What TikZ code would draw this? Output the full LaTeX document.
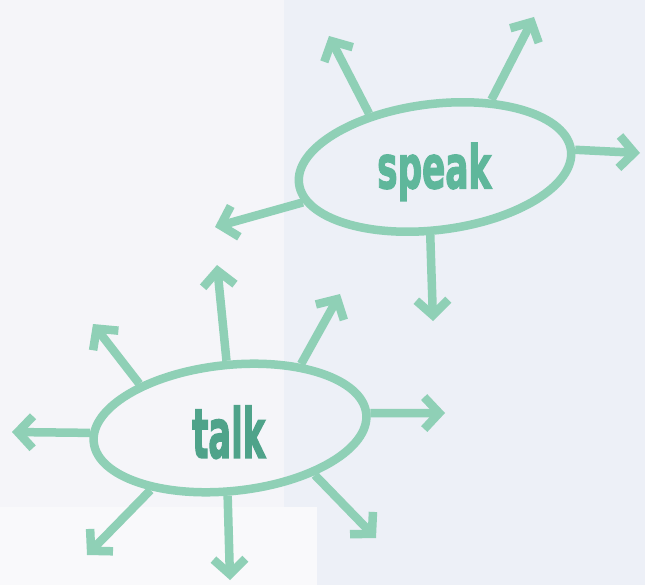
\documentclass[tikz,border=0pt]{standalone}
\usepackage{fontspec}
\usepackage{graphicx}
\usetikzlibrary{arrows.meta,shapes.geometric}
\setmainfont{DejaVu Sans}
\newfontfamily\wordfont{DejaVu Sans Condensed Bold}[FakeBold=2.5]
\definecolor{mint}{HTML}{8FD0B6}
\definecolor{speakgreen}{HTML}{5FB79B}
\definecolor{talkgreen}{HTML}{4FA38A}
\definecolor{paper}{HTML}{EDF0F7}
\definecolor{paperlight}{HTML}{F5F5F9}
\tikzset{
  bubble/.style={ellipse,draw=mint,line width=8.5pt,minimum width=274pt,minimum height=126pt,inner sep=0pt},
  spoke/.style={mint,line width=8.5pt,-{Straight Barb[length=15pt,width=32pt]}},
  word/.style={inner sep=0pt,font=\wordfont}
}
\begin{document}
\begin{tikzpicture}[x=1pt,y=-1pt]
  \useasboundingbox (0,0) rectangle (645,585);
  % paper
  \fill[paper] (0,0) rectangle (645,585);
  \fill[paperlight] (0,0) rectangle (284,507);
  \fill[paperlight!60!white] (0,507) rectangle (317,585);
  % speak
  \node[bubble,rotate=7] (speak) at (435,167) {};
  \node[word,text=speakgreen,anchor=south west] (speakw) at (377,201) {\resizebox*{114pt}{58pt}{speak}};
  \coordinate (s1) at (329,36);
  \coordinate (s2) at (534,17);
  \coordinate (s3) at (640,153);
  \coordinate (s4) at (215,227);
  \coordinate (s5) at (433,321);
  \draw[spoke] (speak.134) -- (s1);
  \draw[spoke] (speak.43) -- (s2);
  \draw[spoke] (speak.0) -- (s3);
  \draw[spoke] (speak.188) -- (s4);
  \draw[spoke] (speak.259) -- (s5);
  % talk
  \node[bubble,rotate=6] (talk) at (230,428) {};
  \node[word,text=talkgreen,anchor=south west] (talkw) at (192,459) {\resizebox*{73pt}{53pt}{talk}};
  \coordinate (t1) at (217,265);
  \coordinate (t2) at (340,294);
  \coordinate (t3) at (93,324);
  \coordinate (t4) at (12,432);
  \coordinate (t5) at (445,413);
  \coordinate (t6) at (87,555);
  \coordinate (t7) at (230,580);
  \coordinate (t8) at (376,538);
  \draw[spoke] (talk.87) -- (t1);
  \draw[spoke] (talk.36) -- (t2);
  \draw[spoke] (talk.148) -- (t3);
  \draw[spoke] (talk.176) -- (t4);
  \draw[spoke] (talk.0) -- (t5);
  \draw[spoke] (talk.212) -- (t6);
  \draw[spoke] (talk.262) -- (t7);
  \draw[spoke] (talk.325) -- (t8);
\end{tikzpicture}
\end{document}
